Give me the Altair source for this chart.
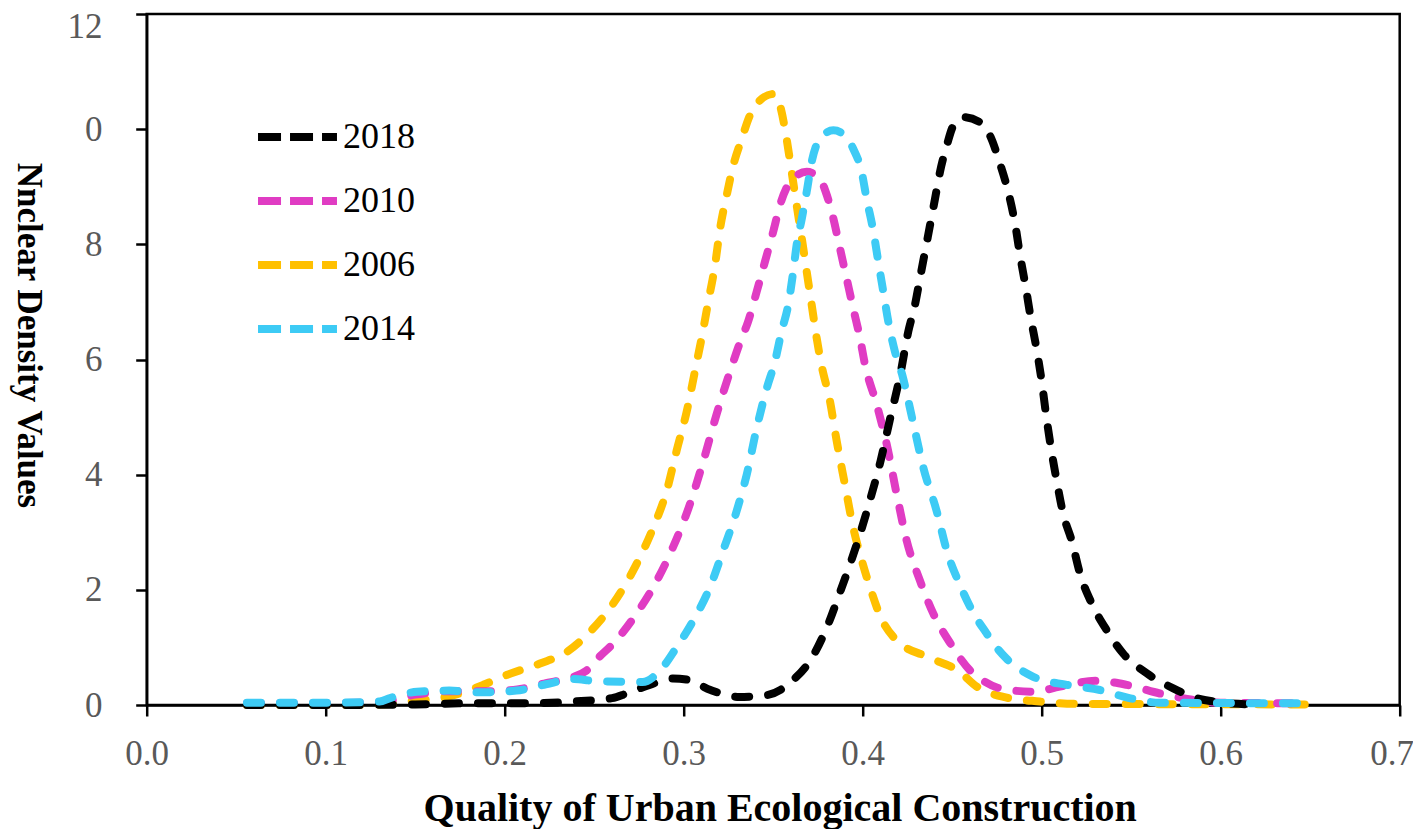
import altair as alt
import pandas as pd

# ---- data ----
x_2018 = [0.056, 0.10, 0.15, 0.18, 0.21, 0.238, 0.26, 0.268, 0.281, 0.294, 0.302, 0.315, 0.331, 0.346,
          0.361, 0.372, 0.38, 0.387, 0.393, 0.3985, 0.404, 0.41, 0.415, 0.421, 0.4255, 0.4292, 0.432,
          0.4348, 0.4376, 0.4404, 0.4432, 0.447, 0.4506, 0.4562, 0.4655, 0.4711, 0.4767, 0.4813, 0.4851,
          0.4879, 0.491, 0.4939, 0.4972, 0.50, 0.5024, 0.505, 0.5084, 0.512, 0.5168, 0.5214, 0.528,
          0.5363, 0.5456, 0.5587, 0.5735, 0.5866, 0.596, 0.61, 0.62]
y_2018 = [0.00, 0.00, 0.01, 0.03, 0.03, 0.06, 0.12, 0.20, 0.35, 0.46, 0.44, 0.26, 0.14, 0.17,
          0.43, 0.84, 1.35, 1.93, 2.45, 2.97, 3.55, 4.24, 4.93, 5.74, 6.49, 6.95, 7.41,
          7.87, 8.33, 8.79, 9.26, 9.72, 10.06, 10.21, 10.12, 9.89, 9.40, 8.91, 8.36,
          7.81, 7.27, 6.72, 6.17, 5.62, 5.05, 4.50, 3.89, 3.32, 2.85, 2.28, 1.76,
          1.30, 0.89, 0.55, 0.29, 0.12, 0.06, 0.02, 0.01]

x_2010 = [0.056, 0.10, 0.13, 0.15, 0.17, 0.19, 0.207, 0.223, 0.231, 0.2458, 0.253, 0.2607, 0.2737,
          0.285, 0.294, 0.3035, 0.311, 0.3184, 0.3265, 0.3315, 0.336, 0.3408, 0.3454, 0.35, 0.3538,
          0.3594, 0.3687, 0.376, 0.38, 0.3836, 0.3873, 0.391, 0.3947, 0.3985, 0.4013, 0.4078, 0.4134,
          0.419, 0.4246, 0.432, 0.4394, 0.449, 0.46, 0.4655, 0.4767, 0.4953, 0.5102, 0.5307, 0.5475,
          0.566, 0.5847, 0.60, 0.648]
y_2010 = [0.03, 0.03, 0.05, 0.18, 0.24, 0.24, 0.27, 0.38, 0.43, 0.60, 0.84, 1.07, 1.59,
          2.16, 2.74, 3.49, 4.24, 5.05, 5.85, 6.30, 6.66, 7.18, 7.70, 8.22, 8.68,
          9.08, 9.26, 9.14, 8.85, 8.45, 7.93, 7.41, 6.89, 6.37, 5.91, 5.22, 4.53,
          3.66, 2.85, 2.16, 1.59, 1.07, 0.60, 0.46, 0.29, 0.23, 0.32, 0.42, 0.35,
          0.20, 0.09, 0.04, 0.03]

x_2006 = [0.056, 0.12, 0.14, 0.149, 0.1676, 0.188, 0.201, 0.2197, 0.2346, 0.2476, 0.2606, 0.2737,
          0.283, 0.2905, 0.296, 0.3017, 0.307, 0.31, 0.3137, 0.3175, 0.3203, 0.324, 0.3277, 0.3324,
          0.337, 0.3426, 0.35, 0.3538, 0.3575, 0.3603, 0.3631, 0.366, 0.3687, 0.3715, 0.3743, 0.377,
          0.3817, 0.3855, 0.39, 0.3947, 0.3985, 0.404, 0.41, 0.419, 0.4358, 0.454, 0.4637, 0.4786,
          0.499, 0.52, 0.648]
y_2006 = [0.00, 0.00, 0.03, 0.07, 0.14, 0.35, 0.52, 0.72, 0.92, 1.27, 1.76, 2.45,
          3.08, 3.72, 4.41, 5.10, 5.91, 6.37, 7.00, 7.64, 8.27, 8.85, 9.37, 9.83,
          10.24, 10.50, 10.61, 10.41, 9.83, 9.26, 8.68, 8.10, 7.53, 6.95, 6.37, 5.90,
          5.28, 4.58, 3.84, 3.08, 2.62, 2.05, 1.53, 1.12, 0.84, 0.58, 0.32, 0.14,
          0.06, 0.02, 0.01]

x_2014 = [0.056, 0.10, 0.13, 0.136, 0.151, 0.169, 0.186, 0.2066, 0.223, 0.238, 0.2495, 0.257, 0.277,
          0.2868, 0.296, 0.3054, 0.3147, 0.322, 0.3296, 0.3352, 0.3408, 0.3464, 0.351, 0.3547, 0.3584,
          0.3612, 0.3631, 0.366, 0.3687, 0.3715, 0.376, 0.3836, 0.391, 0.3947, 0.3994, 0.4022, 0.406,
          0.4087, 0.4115, 0.4143, 0.418, 0.4222, 0.428, 0.4339, 0.4413, 0.447, 0.4544, 0.4618, 0.4693,
          0.473, 0.4805, 0.4953, 0.514, 0.5326, 0.549, 0.566, 0.648]
y_2014 = [0.04, 0.04, 0.06, 0.12, 0.23, 0.25, 0.22, 0.25, 0.36, 0.45, 0.42, 0.41, 0.40,
          0.60, 1.00, 1.47, 2.05, 2.68, 3.37, 4.00, 4.81, 5.50, 5.97, 6.49, 6.95,
          7.53, 7.99, 8.45, 8.91, 9.43, 9.83, 9.98, 9.86, 9.66, 9.26, 8.79, 8.22,
          7.70, 7.18, 6.66, 6.14, 5.72, 4.93, 4.12, 3.37, 2.68, 2.08, 1.60, 1.24,
          1.07, 0.80, 0.49, 0.35, 0.26, 0.12, 0.04, 0.03]

legend_order = ["2018", "2010", "2006", "2014"]
colors = ["#000000", "#E03CC3", "#FFC000", "#3DCBF5"]
draw_order = ["2006", "2010", "2018", "2014"]

x_ticks = [0.0, 0.1, 0.2, 0.3, 0.4, 0.5, 0.6, 0.7]
y_ticks = [0, 2, 4, 6, 8, 10, 12]

FONT = "Liberation Serif"
GREY = "#595959"

series = {"2018": (x_2018, y_2018), "2010": (x_2010, y_2010),
          "2006": (x_2006, y_2006), "2014": (x_2014, y_2014)}
rows = []
for name, (xs, ys) in series.items():
    for xv, yv in zip(xs, ys):
        rows.append({"year": name, "x": xv, "y": yv})
df = pd.DataFrame(rows)

x_enc = alt.X(
    "x:Q",
    scale=alt.Scale(domain=[0, 0.7], nice=False, zero=False),
    axis=alt.Axis(
        values=x_ticks, format=".1f", grid=False,
        labelFontSize=35, labelFont=FONT, labelColor=GREY, labelPadding=20,
        labelFlush=False, labelOverlap=False,
        labelOffset={"condition": {"test": "datum.value >= 0.69", "value": -8}, "value": 0},
        tickSize=11, tickWidth=2.5, tickColor="black",
        domainColor="black", domainWidth=2.5,
        title="Quality of Urban Ecological Construction",
        titleFont=FONT, titleFontSize=40, titleFontWeight="bold", titleColor="black",
        titleX=633, titleY=115, titleBaseline="alphabetic", titleAlign="center",
    ),
)
y_enc = alt.Y(
    "y:Q",
    scale=alt.Scale(domain=[0, 12], nice=False),
    axis=alt.Axis(
        values=y_ticks, grid=False,
        labelExpr="datum.value == 10 ? '0' : datum.label",
        labelFontSize=35, labelFont=FONT, labelColor=GREY, labelPadding=33.7,
        labelOverlap=False,
        labelOffset={"condition": {"test": "datum.value == 12", "value": 12}, "value": 0},
        tickSize=11, tickWidth=2.5, tickColor="black",
        domainColor="black", domainWidth=2.5,
        title="Nnclear Density Values",
        titleFont=FONT, titleFontSize=35, titleFontWeight="bold", titleColor="black",
        titleAngle=90, titleX=-129, titleY=321, titleBaseline="alphabetic",
        titleAlign="center",
    ),
)
c_enc = alt.Color(
    "year:N",
    scale=alt.Scale(domain=legend_order, range=colors),
    legend=alt.Legend(
        orient="none", legendX=118.8, legendY=91, title=None,
        symbolType="M-1.41,0H1.41", symbolSize=3136, symbolStrokeWidth=8,
        symbolDash=[23, 9], labelFontSize=36, labelFont=FONT, labelColor="black",
        labelOffset=13.5, rowPadding=14, padding=0, offset=0, labelLimit=300,
    ),
)

base = alt.Chart(df).mark_line(
    strokeWidth=8, strokeDash=[14, 19], strokeCap="round", interpolate="monotone"
).encode(x=x_enc, y=y_enc, color=c_enc)

layers = [base.transform_filter(alt.datum.year == s) for s in draw_order]

chart = alt.layer(*layers).properties(
    width=1253, height=691,
    autosize=alt.AutoSizeParams(type="none"),
    padding={"left": 138.7, "top": 6, "right": 13.3, "bottom": 124},
).configure_view(stroke="black", strokeWidth=2.5)

chart.save("out.html", embed_options={"renderer": "svg", "actions": False})
